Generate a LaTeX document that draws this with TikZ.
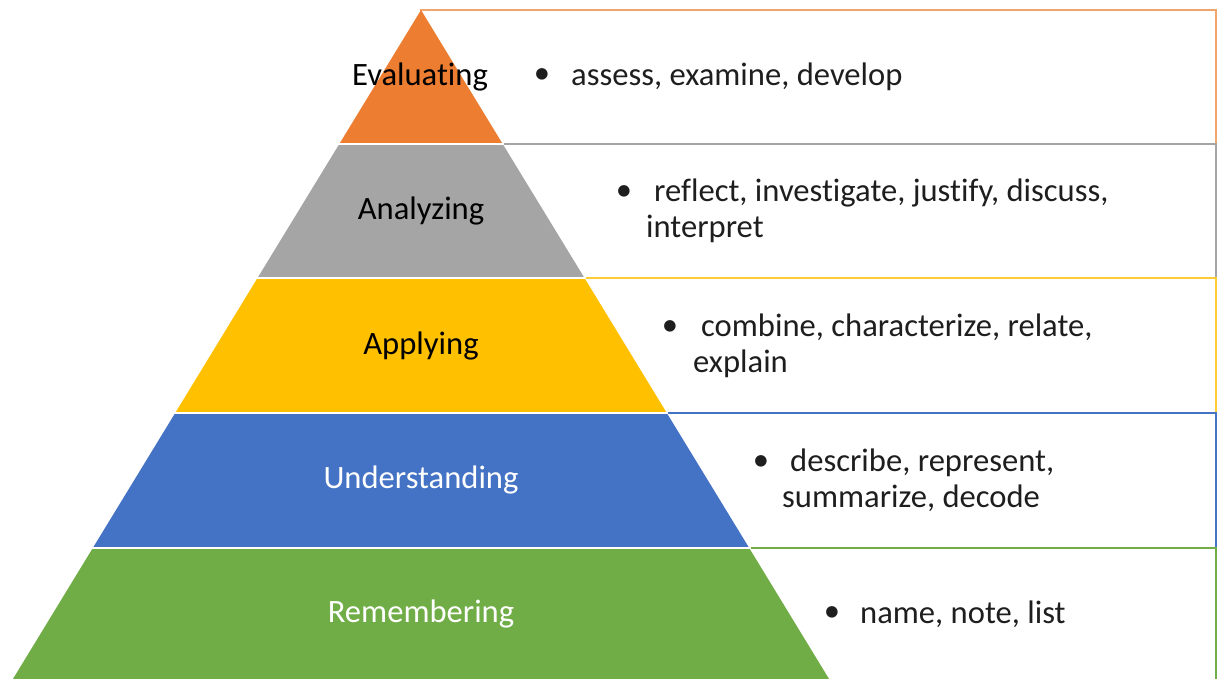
\documentclass[tikz,border=0pt]{standalone}
\usepackage{fontspec}
\setmainfont{Carlito}[Ligatures=NoCommon]
\definecolor{cOr}{HTML}{ED7D31}
\definecolor{cGr}{HTML}{A5A5A5}
\definecolor{cYe}{HTML}{FFC000}
\definecolor{cBl}{HTML}{4472C4}
\definecolor{cGn}{HTML}{70AD47}
\definecolor{txt}{HTML}{1E1E1E}
\begin{document}
\begin{tikzpicture}[x=1pt,y=-1pt,
  lvl/.style={font=\fontsize{32.6}{37}\selectfont, inner sep=0pt},
  item/.style={font=\fontsize{32.6}{36}\selectfont, anchor=west, align=left, inner sep=0pt, text=txt},
  bul/.style={font=\fontsize{32.6}{36}\selectfont, inner sep=0pt, text=txt},
  itembox/.style={line width=1.3pt},
  sep/.style={draw=white, line width=2pt}]
\useasboundingbox (0,0) rectangle (1218,679);
\clip (0,0) rectangle (1218,679);
% text boxes
\draw[itembox, draw=cOr!70] (421,10) rectangle (1216,144);
\draw[itembox, draw=cGr] (421,144) rectangle (1216,278);
\draw[itembox, draw=cYe!80] (421,278) rectangle (1216,413);
\draw[itembox, draw=cBl] (421,413) rectangle (1216,548);
\draw[itembox, draw=cGn] (421,548) rectangle (1216,700);
% pyramid layers
\fill[cOr] (421,10) -- (502.7,144) -- (339.3,144) -- cycle;
\fill[cGr] (339.3,144) -- (502.7,144) -- (584.5,278) -- (257.5,278) -- cycle;
\fill[cYe] (257.5,278) -- (584.5,278) -- (666.8,413) -- (175.2,413) -- cycle;
\fill[cBl] (175.2,413) -- (666.8,413) -- (749.2,548) -- (92.8,548) -- cycle;
\fill[cGn] (92.8,548) -- (749.2,548) -- (830.9,682) -- (11.1,682) -- cycle;
\draw[sep] (338,144) -- (504,144);
\draw[sep] (256,278) -- (586,278);
\draw[sep] (174,413) -- (668,413);
\draw[sep] (91,548) -- (751,548);
% level labels
\node[lvl, text=black] (l1) at (420,77) {Evaluating};
\node[lvl, text=black] (l2) at (421,211) {Analyzing};
\node[lvl, text=black] (l3) at (421,346) {Applying};
\node[lvl, text=white] (l4) at (421,480) {Understanding};
\node[lvl, text=white] (l5) at (421,614) {Remembering};
% items
\node[bul] (b1) at (542,76) {•};
\node[item] (t1) at (571,77) {assess, examine, develop};
\node[bul] (b2) at (624,193) {•};
\node[item] (t2) at (646,211) {\hspace{8pt}reflect, investigate, justify, discuss,\\interpret};
\node[bul] (b3) at (670,328) {•};
\node[item] (t3) at (693,346) {\hspace{8pt}combine, characterize, relate,\\explain};
\node[bul] (b4) at (761,463) {•};
\node[item] (t4) at (782,480) {\hspace{8pt}describe, represent,\\summarize, decode};
\node[bul] (b5) at (832,614) {•};
\node[item] (t5) at (860,614) {name, note, list};
\end{tikzpicture}
\end{document}
